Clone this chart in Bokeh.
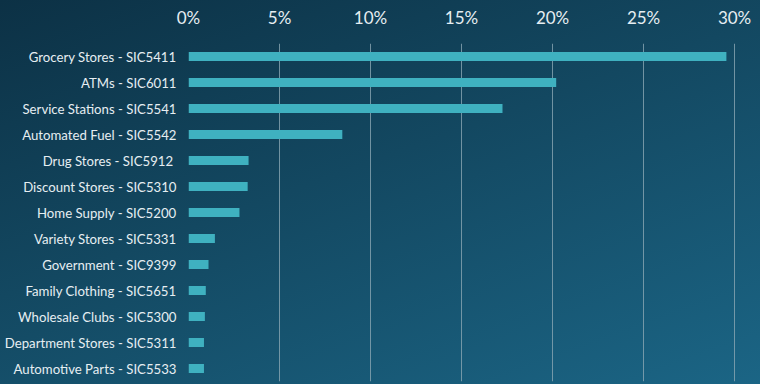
from bokeh.plotting import figure
from bokeh.models import Range1d, FactorRange, FixedTicker
from bokeh.embed import file_html
from bokeh.resources import INLINE

categories = [
    "Grocery Stores - SIC5411",
    "ATMs - SIC6011",
    "Service Stations - SIC5541",
    "Automated Fuel - SIC5542",
    "Drug Stores  - SIC5912",
    "Discount Stores - SIC5310",
    "Home Supply - SIC5200",
    "Variety Stores - SIC5331",
    "Government - SIC9399",
    "Family Clothing - SIC5651",
    "Wholesale Clubs - SIC5300",
    "Department Stores - SIC5311",
    "Automotive Parts - SIC5533",
]
shares = [29.55, 20.2, 17.25, 8.45, 3.3, 3.25, 2.8, 1.45, 1.1, 0.95, 0.9, 0.85, 0.85]
x_ticks = [0, 5, 10, 15, 20, 25, 30]
tick_labels = {0: "0%", 5: "5%", 10: "10%", 15: "15%", 20: "20%", 25: "25%", 30: "30%"}

FONT = "Lato"
TXT = "#e6eef2"

p = figure(
    width=760, height=384,
    y_range=FactorRange(*reversed(categories)),
    x_range=Range1d(0, 30.6),
    x_axis_location="above",
    output_backend="svg",
    toolbar_location=None,
    min_border_left=188, min_border_right=15,
    min_border_top=43, min_border_bottom=3,
)
p.background_fill_alpha = 0
p.border_fill_alpha = 0
p.styles = {"background": "linear-gradient(160deg, #0c3145 0%, #134861 45%, #1b6585 100%)"}
p.outline_line_color = None

p.hbar(y=categories, right=shares, left=0, height=0.35,
       fill_color="#3fb1c0", line_color=None)

p.xgrid.ticker = FixedTicker(ticks=x_ticks)
p.xgrid.grid_line_color = "#8aa6b3"
p.xgrid.grid_line_alpha = 0.8
p.xgrid.grid_line_width = 1
p.ygrid.grid_line_color = None

xa = p.xaxis[0]
xa.ticker = FixedTicker(ticks=x_ticks)
xa.major_label_overrides = tick_labels
xa.axis_line_color = None
xa.major_tick_line_color = None
xa.minor_tick_line_color = None
xa.major_tick_out = 0
xa.major_tick_in = 0
xa.minor_tick_out = 0
xa.major_label_text_color = TXT
xa.major_label_text_font = FONT
xa.major_label_text_font_size = "17px"
xa.major_label_standoff = 16

ya = p.yaxis[0]
ya.axis_line_color = None
ya.major_tick_line_color = None
ya.minor_tick_line_color = None
ya.major_tick_out = 0
ya.major_tick_in = 0
ya.minor_tick_out = 0
ya.major_label_text_color = TXT
ya.major_label_text_font = FONT
ya.major_label_text_font_size = "13.2px"
ya.major_label_standoff = 12

open("out.html", "w").write(file_html(p, INLINE))
